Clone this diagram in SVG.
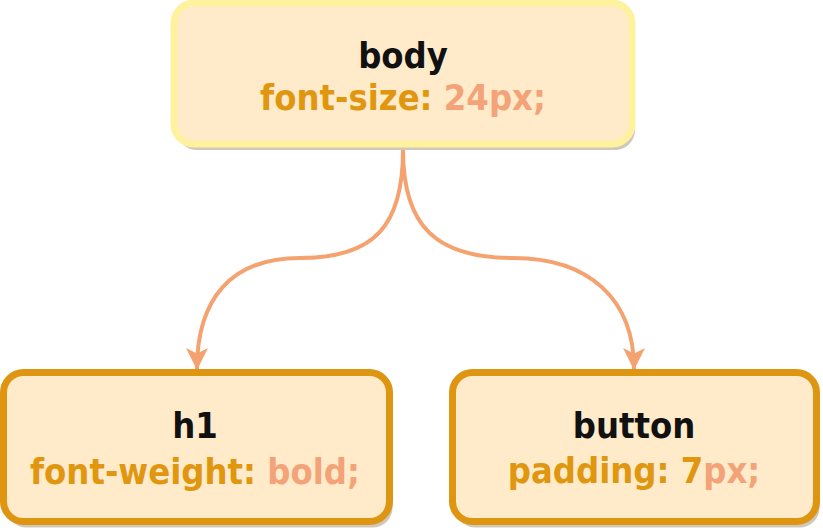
<svg xmlns="http://www.w3.org/2000/svg" width="823" height="531" viewBox="0 0 823 531">
<style>
.box{fill:#FFEBCA;stroke-width:7}
.top{stroke:#FFF29E}
.child{stroke:#DE9512}
.shadow{fill:#C4BBAA;opacity:0.8}
text{font-family:"DejaVu Sans Condensed","DejaVu Sans",sans-serif;font-stretch:condensed;font-weight:bold;font-size:36px;text-anchor:middle}
.title{fill:#111111}
.prop{fill:#E0960F}
.val{fill:#F4A277}
.edge{fill:none;stroke:#F4A270;stroke-width:4}
</style>
<defs>
<marker id="arrow" markerUnits="userSpaceOnUse" markerWidth="22" markerHeight="22" viewBox="0 0 20 20" refX="19" refY="10" orient="auto">
<path d="M0,0 L20,10 L0,20 L5,10 Z" fill="#F4A270"/>
</marker>
</defs>
<g id="connectors">
<path class="edge" d="M403,150 C403,225 375,258 300,258 C230,258 197,300 197,369" marker-end="url(#arrow)"/>
<path class="edge" d="M403,150 C403,225 435,258 513,258 C590,258 634,300 634,369" marker-end="url(#arrow)"/>
</g>
<g id="body">
<rect class="shadow" x="177" y="6" width="458" height="144" rx="20"/>
<rect class="box top" x="174" y="3" width="458" height="141" rx="20"/>
<text class="title" x="403" y="68">body</text>
<text x="403" y="110"><tspan class="prop">font-size: </tspan><tspan class="val">24px;</tspan></text>
</g>
<g id="h1">
<rect class="shadow" x="6.5" y="375.5" width="386" height="152" rx="20"/>
<rect class="box child" x="3.5" y="372.5" width="386" height="149" rx="20"/>
<text class="title" x="195" y="438">h1</text>
<text x="195" y="484"><tspan class="prop">font-weight: </tspan><tspan class="val">bold;</tspan></text>
</g>
<g id="button">
<rect class="shadow" x="455.5" y="375.5" width="364" height="152" rx="20"/>
<rect class="box child" x="452.5" y="372.5" width="364" height="149" rx="20"/>
<text class="title" x="634" y="438">button</text>
<text x="634" y="483"><tspan class="prop">padding: 7</tspan><tspan class="val">px;</tspan></text>
</g>
</svg>
